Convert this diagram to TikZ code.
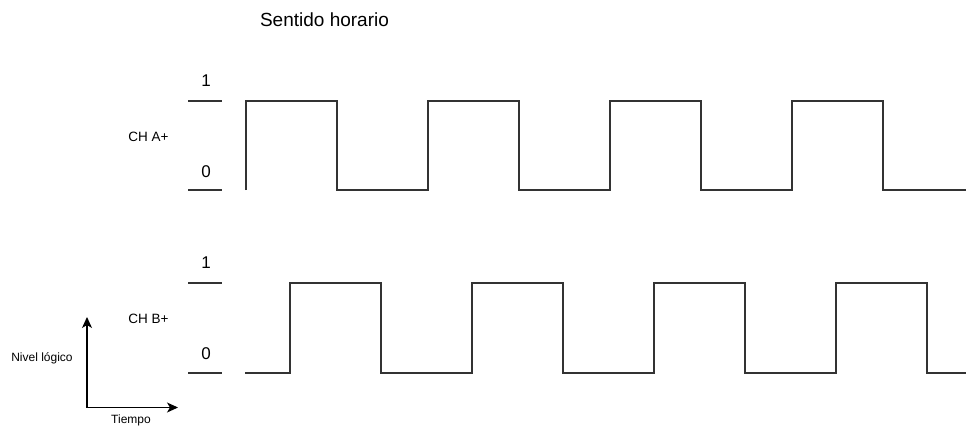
\documentclass[tikz,border=0pt]{standalone}
\usepackage{fontspec}
\setmainfont{Liberation Sans}
\usetikzlibrary{arrows.meta}
\definecolor{wave}{HTML}{333333}
\tikzset{
  wire/.style={draw=wave, line width=1.2pt, line join=miter},
  tick/.style={draw=wave, line width=1.2pt},
  lvl/.style={font=\fontsize{17}{17}\selectfont, inner sep=0pt},
  chan/.style={font=\fontsize{13.5}{14}\selectfont, inner sep=0pt},
  axlab/.style={font=\fontsize{12}{12}\selectfont, inner sep=0pt},
  axis/.style={draw=black, line width=1.1pt, -{Stealth[length=11pt,width=10pt,inset=3pt]}}
}
\begin{document}
\begin{tikzpicture}[x=1pt,y=-1pt]
\useasboundingbox (0,0) rectangle (967,426);
% title
\node[font=\fontsize{19}{19}\selectfont, inner sep=0pt] (title) at (324.5,20) {Sentido horario};
% channel labels
\node[chan] (cha) at (148.5,137) {CH A+};
\node[chan] (chb) at (148.5,319) {CH B+};
% level labels
\node[lvl] (a1) at (206,81) {1};
\node[lvl] (a0) at (206,172) {0};
\node[lvl] (b1) at (206,263) {1};
\node[lvl] (b0) at (206,354) {0};
% level ticks
\draw[tick] (188,101) -- (222,101);
\draw[tick] (188,190) -- (222,190);
\draw[tick] (188,283) -- (222,283);
\draw[tick] (188,373) -- (222,373);
% channel A
\draw[wire] (246,190) -- (246,101) -- (337,101) -- (337,190) -- (428,190) -- (428,101)
  -- (519,101) -- (519,190) -- (610,190) -- (610,101) -- (701,101) -- (701,190)
  -- (792,190) -- (792,101) -- (883,101) -- (883,190) -- (966,190);
% channel B
\draw[wire] (245,373) -- (290,373) -- (290,283) -- (381,283) -- (381,373) -- (472,373)
  -- (472,283) -- (563,283) -- (563,373) -- (654,373) -- (654,283) -- (745,283)
  -- (745,373) -- (836,373) -- (836,283) -- (927,283) -- (927,373) -- (966,373);
% axes
\coordinate (o) at (87,407.5);
\coordinate (ytop) at (87,317);
\coordinate (xend) at (178,407.5);
\draw[axis] (o) -- (ytop);
\draw[axis] (o) -- (xend);
\node[axlab] (ny) at (42,358) {Nivel lógico};
\node[axlab] (nx) at (131,420) {Tiempo};
\end{tikzpicture}
\end{document}
